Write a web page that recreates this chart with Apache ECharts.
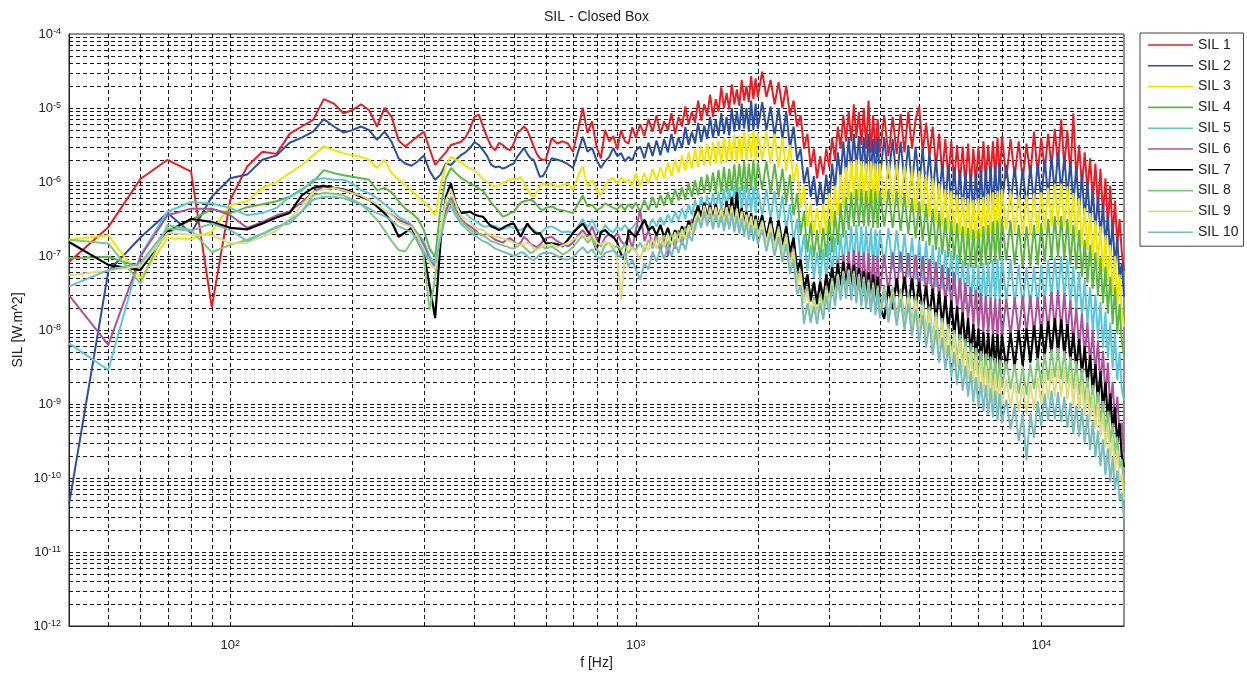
<!DOCTYPE html>
<html>
<head>
<meta charset="utf-8">
<title>SIL - Closed Box</title>
<script src="https://cdn.jsdelivr.net/npm/echarts@6/dist/echarts.min.js"></script>
<style>
  html, body { margin: 0; padding: 0; background: #ffffff; }
  #chart { width: 1247px; height: 675px; }
</style>
</head>
<body>
<div id="chart"></div>
<script>
// Frequency bins (Hz), split into three bands
const freqLow = [
  40, 50, 60, 70, 80, 90, 100, 110, 120, 130,
  140, 150, 160, 170, 180, 190, 200, 210, 220, 230,
  240, 250, 260, 270, 280, 290, 300, 310, 320, 330,
  340, 350, 360, 370, 380, 390, 400, 410, 420, 430,
  440, 450, 460, 470, 480, 490, 500, 510, 520, 530,
  540, 550, 560, 570, 580, 590, 600
];
const freqMid = [
  620, 640, 660, 680, 700, 720, 740, 760, 780, 800,
  820, 840, 860, 880, 900, 920, 940, 960, 980, 1000,
  1025, 1050, 1075, 1100, 1125, 1150, 1175, 1200, 1225, 1250,
  1275, 1300, 1325, 1350, 1375, 1400, 1425, 1450, 1475, 1500,
  1525, 1550, 1575, 1600, 1625, 1650, 1675, 1700, 1725, 1750,
  1775, 1800, 1825, 1850, 1875, 1900, 1925, 1950, 1975, 2000
];
const freqHigh = [
  2050, 2100, 2150, 2200, 2250, 2300, 2350, 2400, 2450, 2500,
  2550, 2600, 2650, 2700, 2750, 2800, 2850, 2900, 2950, 3000,
  3050, 3100, 3150, 3200, 3250, 3300, 3350, 3400, 3450, 3500,
  3550, 3600, 3650, 3700, 3750, 3800, 3850, 3900, 3950, 4000,
  4100, 4200, 4300, 4400, 4500, 4600, 4700, 4800, 4900, 5000,
  5100, 5200, 5300, 5400, 5500, 5600, 5700, 5800, 5900, 6000,
  6100, 6200, 6300, 6400, 6500, 6600, 6700, 6800, 6900, 7000,
  7100, 7200, 7300, 7400, 7500, 7600, 7700, 7800, 7900, 8000,
  8200, 8400, 8600, 8800, 9000, 9200, 9400, 9600, 9800, 10000,
  10200, 10400, 10600, 10800, 11000, 11200, 11400, 11600, 11800, 12000,
  12200, 12400, 12600, 12800, 13000, 13200, 13400, 13600, 13800, 14000,
  14200, 14400, 14600, 14800, 15000, 15200, 15400, 15600, 15800, 16000
];

// Sound intensity levels, dB re 1e-12 W/m^2
const sil1Low = [
  49.2, 53.9, 60.4, 63.0, 61.4, 43.1, 57.6, 62.1, 64.1, 63.8,
  66.5, 67.5, 68.4, 71.2, 70.6, 69.3, 69.7, 70.5, 69.7, 67.5,
  70.0, 68.8, 65.6, 64.8, 65.5, 66.2, 66.8, 64.5, 62.3, 63.2,
  64.0, 65.0, 65.2, 65.4, 66.0, 67.2, 68.8, 69.1, 67.5, 66.0,
  64.8, 64.3, 65.3, 65.0, 64.5, 64.3, 65.2, 66.6, 67.0, 67.5,
  67.0, 65.9, 64.8, 63.8, 63.2, 63.0, 63.0
];
const sil1Mid = [
  65.9, 65.2, 65.5, 65.2, 64.1, 67.0, 70.0, 66.6, 68.2, 64.8,
  63.2, 67.0, 65.5, 66.2, 64.5, 67.0, 65.5, 65.2, 67.4, 66.0,
  67.8, 66.2, 68.5, 66.8, 69.0, 66.5, 68.2, 67.0, 69.3, 66.5,
  68.8, 67.5, 70.2, 67.8, 69.5, 68.0, 71.0, 68.3, 70.5, 69.0,
  71.8, 68.8, 71.2, 69.5, 72.8, 70.0, 72.0, 69.8, 73.2, 70.5,
  72.5, 70.3, 73.8, 71.0, 73.0, 70.8, 74.3, 71.2, 74.0, 71.5
];
const sil1High = [
  74.9, 71.5, 73.8, 70.5, 73.5, 70.0, 73.0, 69.0, 71.0, 67.5,
  69.0, 64.5, 66.5, 62.0, 64.5, 60.5, 63.5, 61.0, 64.5, 62.0,
  66.0, 63.0, 67.5, 64.5, 69.0, 65.5, 69.5, 65.5, 70.5, 66.0,
  69.5, 65.0, 70.0, 64.5, 71.0, 64.0, 69.0, 63.8, 68.5, 64.0,
  69.0, 63.5, 68.8, 63.8, 69.2, 64.0, 69.5, 64.5, 68.5, 70.2,
  64.0, 68.0, 63.5, 67.5, 62.0, 66.5, 61.0, 65.8, 60.5, 65.5,
  60.0, 65.0, 59.8, 64.8, 59.5, 65.2, 59.5, 64.5, 59.8, 64.8,
  60.0, 65.5, 60.2, 65.0, 60.5, 65.5, 60.5, 66.0, 60.5, 66.2,
  60.5, 65.8, 60.7, 65.5, 60.3, 65.2, 60.8, 66.8, 61.0, 66.0,
  61.5, 66.5, 62.0, 67.2, 62.2, 68.5, 62.0, 67.0, 61.0, 69.3,
  60.5, 65.0, 59.5, 64.0, 58.8, 63.2, 57.5, 62.5, 56.5, 61.8,
  55.5, 60.5, 54.0, 59.5, 52.5, 57.5, 51.5, 55.0, 50.5, 48.0
];

const sil2Low = [
  16.4, 47.9, 52.5, 55.8, 53.1, 58.0, 60.5, 61.0, 63.0, 63.6,
  65.3, 66.0, 66.8, 68.5, 67.5, 66.7, 67.0, 67.5, 67.0, 65.7,
  66.8, 65.4, 63.2, 62.5, 62.2, 62.8, 63.6, 61.5, 60.3, 61.0,
  62.5, 62.3, 63.0, 63.6, 64.0, 64.6, 65.4, 65.0, 64.3, 63.5,
  62.3, 62.0, 62.1, 61.8, 62.0, 62.3, 62.5, 63.4, 64.0, 64.6,
  63.8, 63.2, 63.0, 61.8, 60.7, 60.8, 61.5
];
const sil2Mid = [
  63.2, 63.0, 62.8, 62.4, 61.9, 64.0, 66.1, 64.1, 64.6, 63.0,
  61.9, 62.8, 63.4, 64.6, 63.5, 63.9, 62.8, 63.4, 62.9, 64.2,
  64.8, 63.2, 65.3, 63.5, 65.6, 63.6, 65.8, 64.0, 66.5, 64.2,
  66.0, 64.6, 67.4, 65.0, 66.8, 65.2, 68.0, 65.4, 67.6, 65.8,
  68.8, 66.0, 68.4, 66.2, 69.3, 66.5, 68.8, 66.3, 70.0, 66.8,
  69.5, 67.0, 70.6, 67.2, 70.0, 66.8, 71.0, 67.0, 70.6, 67.2
];
const sil2High = [
  70.8, 67.0, 70.2, 66.2, 70.0, 65.8, 69.5, 64.5, 67.5, 63.0,
  64.5, 59.8, 62.0, 58.0, 60.8, 56.8, 60.0, 57.0, 61.0, 57.5,
  62.5, 59.0, 64.0, 60.5, 65.5, 61.0, 66.0, 61.5, 66.5, 61.8,
  66.2, 61.5, 66.0, 61.0, 66.5, 60.8, 65.8, 60.5, 66.0, 60.5,
  66.0, 60.5, 65.8, 60.3, 65.5, 60.0, 65.0, 59.5, 64.8, 59.5,
  64.5, 59.0, 64.0, 58.5, 63.2, 57.8, 62.5, 57.0, 62.3, 56.8,
  62.0, 56.5, 61.5, 56.0, 61.2, 56.0, 61.0, 55.8, 61.2, 56.0,
  61.5, 56.2, 61.8, 56.5, 62.0, 56.5, 62.2, 56.8, 62.5, 57.0,
  62.3, 57.0, 62.0, 56.5, 61.8, 56.5, 62.2, 57.0, 62.5, 57.5,
  63.0, 58.0, 63.5, 58.5, 64.0, 58.5, 63.5, 58.0, 62.8, 57.0,
  62.0, 56.0, 61.0, 55.0, 60.0, 54.5, 59.0, 53.5, 58.0, 52.5,
  57.0, 51.5, 55.5, 50.0, 54.5, 48.5, 52.5, 47.0, 49.0, 44.5
];

const sil3Low = [
  52.2, 52.8, 47.0, 52.4, 52.3, 53.3, 56.9, 57.4, 59.2, 60.0,
  61.2, 62.3, 63.6, 64.8, 64.3, 63.9, 63.6, 63.4, 63.0, 61.9,
  63.0, 61.2, 60.3, 59.6, 58.8, 58.0, 57.3, 56.5, 55.5, 59.5,
  62.3, 63.4, 63.0, 62.7, 62.2, 61.8, 61.6, 61.0, 60.4, 60.0,
  59.6, 59.4, 59.6, 59.9, 60.1, 60.3, 60.5, 60.3, 60.7, 60.0,
  59.0, 58.3, 58.0, 58.6, 59.4, 59.8, 59.6
];
const sil3Mid = [
  59.8, 59.4, 59.6, 59.8, 58.9, 60.8, 62.1, 59.4, 60.3, 59.0,
  58.2, 59.5, 60.3, 60.5, 59.8, 60.6, 60.0, 60.3, 59.5, 61.2,
  59.4, 61.2, 59.8, 61.8, 60.2, 62.0, 60.5, 62.6, 60.8, 63.0,
  61.2, 63.6, 61.5, 64.0, 61.8, 64.5, 62.0, 64.8, 62.2, 65.2,
  62.3, 65.4, 62.5, 65.6, 62.4, 66.0, 62.6, 65.8, 62.8, 66.4,
  62.6, 66.2, 63.0, 66.8, 62.8, 66.5, 63.2, 67.0, 62.8, 66.6
];
const sil3High = [
  63.0, 66.8, 62.5, 66.5, 62.0, 66.0, 61.5, 65.0, 60.0, 62.5,
  56.5, 59.5, 54.0, 57.0, 53.0, 56.5, 52.8, 57.0, 53.0, 58.5,
  54.0, 59.5, 55.5, 61.0, 56.5, 62.0, 57.5, 62.8, 57.8, 63.0,
  57.5, 62.8, 57.5, 62.5, 57.2, 62.8, 57.0, 62.5, 57.0, 62.5,
  57.2, 62.6, 57.0, 62.5, 56.8, 62.2, 56.5, 61.8, 56.0, 61.5,
  55.8, 61.0, 55.2, 60.5, 54.5, 59.8, 54.0, 59.0, 53.5, 58.8,
  53.0, 58.3, 52.8, 58.0, 52.5, 57.8, 52.2, 57.6, 52.3, 57.8,
  52.5, 58.0, 52.8, 58.4, 53.0, 58.6, 53.2, 58.8, 53.5, 59.0,
  53.5, 58.8, 53.0, 58.3, 52.8, 58.2, 52.8, 58.5, 53.0, 58.6,
  53.5, 59.2, 54.0, 59.8, 54.2, 59.8, 54.0, 59.4, 53.2, 58.5,
  52.5, 57.8, 51.5, 56.5, 50.8, 55.8, 49.8, 54.8, 48.8, 54.0,
  47.8, 52.8, 46.5, 51.5, 45.0, 50.0, 43.5, 47.5, 42.5, 40.5
];

const sil4Low = [
  49.7, 49.9, 48.5, 53.1, 54.9, 56.3, 55.8, 56.6, 57.0, 57.4,
  58.0, 59.0, 60.0, 61.6, 61.2, 60.9, 60.7, 60.5, 60.3, 58.9,
  59.2, 58.6, 57.4, 56.4, 55.8, 55.0, 53.5, 51.0, 49.9, 56.5,
  60.5, 61.9, 61.2, 60.6, 60.2, 59.8, 59.5, 59.1, 58.8, 58.0,
  57.2, 56.6, 56.0, 55.3, 55.5, 55.8, 55.9, 56.6, 57.2, 57.4,
  57.5, 57.6, 57.4, 56.9, 56.4, 56.2, 56.5
];
const sil4Mid = [
  56.7, 56.3, 56.2, 56.0, 55.8, 57.0, 58.2, 56.7, 56.9, 56.2,
  56.5, 57.1, 56.8, 56.5, 56.3, 56.9, 56.2, 57.0, 56.4, 57.2,
  56.0, 57.6, 56.2, 58.0, 56.5, 58.2, 56.8, 58.6, 57.0, 59.0,
  57.5, 59.3, 57.6, 59.8, 58.0, 60.2, 58.2, 60.7, 58.5, 61.0,
  58.6, 61.3, 58.5, 61.6, 58.6, 62.0, 58.6, 61.8, 58.8, 62.4,
  58.6, 62.5, 58.8, 62.8, 58.6, 62.5, 59.0, 63.0, 58.8, 62.6
];
const sil4High = [
  59.0, 62.8, 58.5, 62.4, 58.0, 61.8, 57.0, 61.0, 55.5, 58.5,
  53.0, 56.0, 50.5, 54.5, 49.8, 53.5, 49.5, 53.8, 49.8, 55.0,
  50.5, 56.0, 51.5, 57.2, 52.5, 58.0, 53.5, 58.6, 54.0, 59.0,
  54.0, 59.0, 54.0, 58.8, 54.0, 59.0, 53.8, 58.8, 53.8, 58.8,
  54.0, 59.0, 53.8, 58.8, 53.4, 58.4, 53.0, 57.8, 52.4, 57.4,
  52.0, 57.0, 51.4, 56.4, 50.8, 55.8, 50.2, 55.2, 49.8, 54.8,
  49.4, 54.4, 49.0, 54.0, 48.6, 53.8, 48.4, 53.6, 48.4, 53.6,
  48.6, 54.0, 48.8, 54.2, 49.0, 54.6, 49.2, 54.8, 49.4, 55.0,
  49.4, 54.8, 48.8, 54.2, 48.5, 54.0, 48.6, 54.2, 48.8, 54.4,
  49.2, 55.0, 49.6, 55.4, 49.8, 55.4, 49.6, 55.0, 48.8, 54.2,
  48.2, 53.5, 47.2, 52.2, 46.4, 51.5, 45.6, 50.5, 44.6, 49.8,
  43.6, 48.6, 42.2, 47.2, 40.8, 45.8, 39.5, 43.5, 38.5, 36.5
];

const sil5Low = [
  38.2, 34.6, 50.1, 56.0, 57.3, 57.1, 56.5, 55.5, 55.8, 56.5,
  58.0, 58.8, 60.3, 60.5, 60.3, 60.3, 59.8, 58.9, 58.5, 57.8,
  57.0, 56.2, 55.3, 54.8, 54.2, 53.0, 52.0, 50.0, 49.0, 53.5,
  56.5, 58.0, 57.0, 56.0, 55.8, 55.2, 54.8, 54.4, 54.0, 54.0,
  54.2, 54.0, 53.8, 53.6, 53.8, 54.0, 53.8, 53.6, 53.5, 53.8,
  54.0, 53.8, 53.6, 53.2, 53.0, 53.4, 53.8
];
const sil5Mid = [
  54.0, 53.6, 53.2, 53.3, 53.1, 54.0, 55.0, 53.8, 54.9, 53.6,
  53.0, 54.2, 53.5, 53.2, 54.0, 53.5, 54.2, 53.5, 53.8, 54.5,
  53.5, 54.8, 53.8, 55.0, 54.0, 55.2, 54.2, 55.6, 54.5, 56.0,
  54.8, 56.5, 55.0, 57.0, 55.5, 57.6, 55.8, 58.0, 56.0, 58.2,
  56.2, 58.5, 56.3, 58.6, 56.4, 59.0, 56.5, 59.2, 56.4, 59.5,
  56.5, 59.3, 56.2, 59.6, 56.0, 59.2, 56.0, 59.4, 55.8, 59.0
];
const sil5High = [
  55.5, 59.0, 55.0, 58.8, 54.5, 58.2, 53.5, 57.0, 52.0, 55.0,
  49.5, 53.0, 48.0, 51.5, 47.0, 50.5, 46.8, 51.0, 47.0, 52.0,
  47.5, 52.5, 48.0, 53.0, 48.5, 53.5, 49.0, 54.0, 49.0, 54.2,
  49.0, 54.0, 48.8, 54.0, 48.6, 53.8, 48.5, 53.6, 48.4, 53.5,
  48.5, 53.8, 48.2, 53.5, 47.8, 53.0, 47.2, 52.5, 46.8, 52.2,
  46.6, 52.0, 46.2, 51.5, 45.8, 51.2, 45.5, 50.8, 45.2, 50.6,
  44.8, 50.2, 44.2, 49.5, 43.6, 49.0, 43.2, 48.8, 43.0, 48.8,
  43.2, 49.0, 43.4, 49.2, 43.6, 49.5, 43.8, 49.6, 44.0, 49.8,
  44.0, 49.6, 43.4, 48.8, 43.0, 48.5, 43.0, 48.6, 43.2, 48.8,
  43.6, 49.4, 44.2, 49.8, 44.4, 50.0, 44.2, 49.6, 43.4, 48.6,
  42.6, 47.8, 41.8, 46.8, 40.8, 45.8, 39.8, 44.8, 38.8, 43.8,
  37.6, 42.5, 36.2, 41.0, 34.8, 39.5, 33.2, 37.0, 32.0, 30.5
];

const sil6Low = [
  44.7, 38.0, 49.9, 55.5, 56.4, 56.4, 55.5, 53.8, 54.6, 55.5,
  56.0, 57.3, 58.6, 59.4, 59.2, 58.8, 58.5, 58.0, 57.6, 56.8,
  56.0, 55.6, 54.9, 54.5, 54.0, 52.8, 51.5, 49.5, 48.6, 52.5,
  56.0, 57.8, 56.2, 55.0, 54.4, 54.0, 53.6, 53.0, 52.8, 53.0,
  52.6, 52.2, 52.0, 51.8, 52.2, 52.4, 52.0, 51.5, 51.8, 52.6,
  52.2, 51.6, 51.4, 51.2, 51.5, 52.0, 52.4
];
const sil6Mid = [
  52.6, 52.0, 51.6, 51.3, 51.8, 52.8, 53.5, 52.6, 54.0, 52.4,
  51.3, 52.5, 53.0, 52.4, 53.1, 52.0, 51.5, 52.8, 51.0, 53.5,
  56.2, 52.0, 53.5, 51.5, 53.0, 50.5, 52.8, 50.0, 52.5, 51.0,
  53.5, 51.5, 54.0, 52.5, 55.0, 54.0, 56.8, 55.0, 57.0, 55.2,
  57.2, 55.0, 56.8, 54.8, 56.5, 54.5, 56.8, 54.2, 56.5, 54.5,
  56.2, 54.0, 56.0, 53.8, 55.8, 53.6, 55.6, 53.4, 55.5, 53.2
];
const sil6High = [
  55.2, 52.0, 55.0, 51.5, 54.5, 51.0, 54.0, 50.0, 52.0, 47.5,
  49.5, 45.0, 47.5, 43.8, 46.5, 43.5, 46.8, 44.0, 47.5, 44.8,
  48.5, 45.2, 49.5, 45.8, 50.2, 46.0, 50.6, 46.2, 50.8, 46.0,
  50.6, 45.8, 50.5, 45.5, 50.4, 45.2, 50.2, 45.0, 50.0, 45.2,
  50.2, 45.0, 50.5, 45.2, 50.6, 45.5, 50.4, 45.4, 50.2, 45.0,
  50.0, 44.8, 49.6, 44.4, 49.2, 44.0, 48.8, 43.6, 48.4, 43.2,
  47.8, 42.6, 47.0, 41.8, 46.4, 41.2, 45.8, 40.6, 45.4, 40.2,
  45.0, 39.8, 44.6, 39.4, 44.4, 39.2, 44.2, 39.0, 44.2, 39.0,
  44.2, 39.2, 44.4, 39.4, 44.6, 39.6, 44.6, 39.4, 44.4, 39.4,
  44.6, 39.8, 45.2, 40.2, 45.4, 40.0, 45.0, 39.4, 44.0, 38.2,
  43.0, 37.6, 42.2, 36.4, 41.0, 35.4, 40.0, 34.0, 38.6, 32.4,
  37.2, 31.0, 35.6, 29.2, 33.0, 27.6, 31.0, 26.0, 27.5, 23.5
];

const sil7Low = [
  51.9, 48.8, 48.1, 53.3, 55.0, 54.6, 53.8, 53.6, 54.4, 55.2,
  55.8, 58.2, 59.2, 59.5, 59.2, 59.0, 58.6, 58.0, 57.6, 56.7,
  55.8, 54.6, 52.6, 53.2, 53.8, 52.0, 50.4, 46.0, 41.6, 52.0,
  58.0, 59.8, 57.0, 55.8, 55.9, 56.0, 55.6, 55.4, 55.3, 54.6,
  54.0, 53.8, 53.5, 53.8, 54.1, 54.3, 54.4, 53.5, 52.6, 53.5,
  54.4, 53.8, 53.3, 53.0, 53.1, 52.4, 51.7
];
const sil7Mid = [
  51.7, 51.6, 51.3, 52.2, 53.1, 53.8, 54.4, 53.4, 52.6, 50.8,
  53.2, 53.5, 52.9, 52.6, 51.8, 50.2, 49.5, 53.5, 53.0, 52.6,
  53.8, 54.9, 53.5, 54.0, 52.8, 54.2, 52.5, 53.8, 52.0, 53.5,
  52.4, 54.0, 52.8, 54.8, 53.5, 55.6, 56.8, 55.2, 57.2, 55.0,
  56.8, 54.8, 57.0, 55.0, 56.5, 54.6, 57.4, 55.0, 58.0, 55.2,
  58.6, 54.8, 56.5, 54.2, 56.0, 53.8, 55.8, 53.6, 55.4, 53.5
];
const sil7High = [
  55.5, 52.5, 55.2, 52.0, 54.8, 51.5, 54.0, 50.5, 52.5, 48.0,
  49.5, 45.5, 47.5, 44.0, 46.5, 43.5, 46.5, 44.0, 47.5, 45.0,
  48.5, 45.5, 49.0, 45.8, 49.2, 45.6, 49.0, 45.5, 48.8, 45.2,
  48.4, 44.8, 48.0, 44.5, 47.8, 44.2, 47.5, 43.8, 47.2, 43.2,
  41.5, 46.0, 42.8, 47.0, 43.2, 47.2, 43.2, 47.0, 43.0, 46.5,
  42.5, 46.0, 41.8, 45.6, 41.2, 45.2, 40.6, 44.6, 40.0, 44.0,
  39.2, 43.2, 38.4, 42.4, 37.6, 41.6, 36.8, 40.8, 36.2, 40.2,
  35.8, 39.8, 35.4, 39.6, 35.0, 39.4, 34.8, 39.4, 34.6, 39.4,
  34.8, 39.6, 35.0, 40.0, 35.2, 40.2, 35.6, 40.6, 36.0, 40.8,
  36.4, 41.2, 36.8, 41.6, 37.0, 41.4, 36.6, 40.8, 35.8, 39.6,
  34.8, 38.8, 34.0, 37.8, 32.6, 36.6, 31.6, 35.4, 30.4, 34.4,
  29.4, 33.0, 27.8, 31.4, 26.2, 29.6, 24.6, 27.4, 23.0, 21.5
];

const sil8Low = [
  52.2, 51.7, 46.3, 54.2, 53.5, 50.5, 51.5, 52.2, 53.0, 54.0,
  54.4, 56.0, 58.2, 58.5, 58.4, 58.2, 57.6, 57.0, 56.0, 54.9,
  53.5, 52.0, 50.8, 50.6, 52.0, 53.1, 49.9, 42.7, 47.0, 53.5,
  57.0, 57.5, 55.8, 54.8, 54.2, 53.6, 53.2, 53.0, 52.8, 52.4,
  52.0, 51.8, 51.6, 51.4, 51.3, 51.1, 51.0, 51.3, 51.6, 51.2,
  50.8, 50.4, 50.6, 51.0, 51.3, 51.2, 51.0
];
const sil8Mid = [
  51.3, 50.8, 50.2, 50.6, 51.2, 52.0, 52.8, 51.8, 52.4, 51.0,
  50.2, 51.5, 51.8, 51.0, 51.4, 50.8, 51.6, 50.4, 51.2, 50.8,
  51.8, 50.6, 52.2, 51.0, 52.6, 51.2, 52.8, 51.5, 53.0, 51.8,
  53.2, 52.2, 53.8, 52.6, 54.4, 53.5, 56.0, 54.2, 56.5, 54.5,
  56.6, 54.4, 56.4, 54.6, 56.8, 54.4, 56.5, 54.2, 56.6, 54.0,
  56.2, 53.8, 56.0, 53.6, 55.6, 53.2, 55.4, 53.0, 55.0, 52.8
];
const sil8High = [
  54.8, 51.8, 54.4, 51.2, 54.0, 50.6, 53.0, 49.0, 51.0, 46.5,
  48.0, 44.0, 45.8, 41.5, 44.5, 42.0, 45.0, 43.0, 46.0, 43.8,
  47.0, 44.2, 47.6, 44.6, 48.0, 44.8, 48.2, 44.6, 48.0, 44.4,
  47.6, 44.0, 47.2, 43.6, 46.8, 43.2, 46.4, 42.8, 46.0, 42.5,
  46.0, 42.0, 45.8, 41.8, 45.6, 41.4, 45.2, 40.8, 44.6, 40.2,
  44.0, 39.6, 43.2, 38.8, 42.4, 38.0, 41.6, 37.2, 40.8, 36.4,
  40.0, 35.8, 39.4, 35.2, 38.8, 34.6, 38.2, 34.0, 37.6, 33.6,
  37.2, 33.2, 36.8, 32.8, 36.4, 32.4, 36.2, 32.2, 36.0, 32.2,
  35.8, 32.0, 35.4, 31.4, 35.0, 31.2, 35.4, 32.0, 36.2, 32.6,
  36.8, 33.2, 37.4, 33.6, 37.6, 33.4, 37.2, 32.8, 36.4, 32.0,
  35.8, 31.2, 34.8, 30.2, 33.6, 29.4, 32.6, 28.4, 31.6, 27.4,
  30.4, 26.2, 29.0, 24.8, 27.4, 23.2, 25.6, 21.4, 22.5, 18.5
];

const sil9Low = [
  47.4, 48.0, 48.6, 53.1, 52.9, 52.8, 51.7, 51.8, 52.6, 53.4,
  55.0, 56.8, 58.6, 59.0, 59.2, 58.9, 58.5, 58.2, 57.6, 57.0,
  56.2, 55.5, 54.6, 54.2, 54.0, 52.5, 51.0, 49.0, 48.2, 53.5,
  57.5, 59.0, 57.0, 55.5, 55.0, 54.6, 54.0, 53.6, 53.5, 53.0,
  52.8, 52.6, 52.5, 52.4, 52.2, 52.0, 51.8, 51.6, 51.4, 51.6,
  51.8, 51.5, 51.0, 50.8, 51.0, 51.5, 51.4
];
const sil9Mid = [
  51.6, 51.2, 51.4, 51.8, 52.2, 52.6, 53.0, 52.2, 52.8, 51.8,
  51.5, 52.0, 51.6, 51.4, 49.5, 44.1, 50.0, 51.5, 51.0, 50.6,
  49.5, 51.6, 50.8, 52.4, 51.0, 52.6, 51.2, 53.0, 51.5, 53.2,
  51.8, 53.6, 52.2, 54.2, 53.0, 55.0, 55.8, 54.6, 56.8, 54.8,
  56.4, 54.6, 56.6, 54.8, 56.2, 54.4, 56.6, 54.6, 56.8, 54.2,
  56.4, 54.0, 56.0, 53.6, 55.6, 53.4, 55.2, 53.0, 54.8, 52.6
];
const sil9High = [
  54.6, 51.6, 54.2, 51.0, 53.6, 50.2, 52.6, 48.6, 50.6, 46.0,
  47.6, 43.6, 45.2, 42.2, 44.0, 41.8, 44.4, 42.4, 45.4, 43.4,
  46.6, 44.0, 47.4, 44.6, 47.8, 44.8, 48.0, 44.6, 47.6, 44.2,
  47.2, 43.8, 46.8, 43.4, 46.4, 43.0, 46.0, 42.6, 45.6, 42.2,
  45.4, 41.4, 45.2, 41.0, 44.8, 40.6, 44.4, 40.2, 44.0, 39.6,
  43.4, 39.0, 42.6, 38.2, 41.8, 37.4, 41.0, 36.6, 40.2, 35.8,
  39.4, 35.0, 38.6, 34.2, 37.8, 33.4, 37.0, 32.8, 36.4, 32.2,
  35.8, 31.6, 35.2, 31.0, 34.6, 30.4, 34.0, 30.0, 33.6, 29.8,
  33.4, 29.6, 33.0, 29.0, 32.6, 28.6, 32.8, 29.2, 33.6, 30.0,
  34.4, 30.6, 35.0, 31.0, 35.2, 31.0, 35.0, 30.6, 34.4, 29.8,
  33.8, 29.2, 33.0, 28.4, 32.2, 27.6, 31.2, 26.6, 30.2, 25.6,
  28.8, 24.2, 27.2, 22.6, 25.4, 21.0, 23.6, 19.6, 20.5, 17.0
];

const sil10Low = [
  45.9, 48.1, 49.0, 53.7, 53.4, 54.4, 53.5, 52.0, 53.0, 53.8,
  54.8, 56.0, 57.6, 58.0, 58.0, 57.8, 57.4, 57.0, 56.4, 55.8,
  55.4, 54.8, 54.0, 53.6, 53.2, 52.0, 50.5, 49.5, 49.0, 52.5,
  55.5, 56.8, 55.4, 54.4, 53.8, 53.2, 52.8, 52.4, 52.0, 51.8,
  51.4, 51.0, 50.8, 50.6, 50.4, 50.2, 50.0, 50.2, 50.5, 50.4,
  50.0, 49.6, 49.4, 49.8, 50.2, 50.4, 50.4
];
const sil10Mid = [
  50.4, 50.0, 49.6, 49.5, 49.8, 50.6, 51.2, 50.4, 50.9, 50.0,
  49.6, 50.4, 50.6, 50.8, 50.2, 49.8, 50.4, 48.6, 49.5, 48.2,
  46.8, 49.0, 48.2, 50.6, 49.2, 51.0, 49.6, 51.4, 50.0, 51.8,
  50.4, 52.2, 50.8, 53.0, 52.0, 54.0, 55.2, 53.8, 56.0, 54.0,
  55.8, 53.6, 55.6, 53.8, 55.4, 53.4, 55.6, 53.6, 55.8, 53.2,
  55.4, 53.0, 55.0, 52.6, 54.6, 52.2, 54.2, 52.0, 53.8, 51.6
];
const sil10High = [
  53.6, 50.6, 53.2, 50.0, 52.6, 49.2, 51.6, 47.6, 49.4, 44.8,
  46.0, 40.8, 43.6, 41.0, 43.2, 40.8, 43.6, 41.4, 44.6, 42.4,
  46.0, 43.2, 47.0, 44.0, 47.6, 44.2, 47.8, 44.0, 47.4, 43.6,
  47.0, 43.2, 46.6, 42.8, 46.2, 42.4, 45.8, 42.0, 45.4, 41.6,
  45.2, 41.0, 44.8, 40.6, 44.2, 40.0, 43.6, 39.2, 42.8, 38.4,
  42.0, 37.6, 41.0, 36.6, 40.0, 35.6, 39.0, 34.6, 38.0, 33.6,
  37.0, 32.6, 36.0, 31.8, 35.2, 31.0, 34.4, 30.2, 33.6, 29.6,
  33.0, 29.0, 32.6, 28.6, 32.2, 28.2, 31.8, 27.8, 31.4, 27.4,
  30.6, 26.6, 29.8, 25.0, 28.6, 22.4, 28.8, 25.4, 30.4, 27.0,
  31.4, 27.8, 31.8, 28.0, 31.6, 27.6, 31.0, 26.8, 30.2, 26.0,
  29.8, 25.6, 29.4, 24.8, 28.6, 23.8, 27.6, 22.8, 26.4, 21.6,
  25.2, 20.4, 24.0, 19.4, 22.8, 18.4, 21.0, 17.0, 18.0, 14.5
];

const seriesNames = ['SIL 1', 'SIL 2', 'SIL 3', 'SIL 4', 'SIL 5', 'SIL 6', 'SIL 7', 'SIL 8', 'SIL 9', 'SIL 10'];
const seriesLevels = [
  [sil1Low, sil1Mid, sil1High],
  [sil2Low, sil2Mid, sil2High],
  [sil3Low, sil3Mid, sil3High],
  [sil4Low, sil4Mid, sil4High],
  [sil5Low, sil5Mid, sil5High],
  [sil6Low, sil6Mid, sil6High],
  [sil7Low, sil7Mid, sil7High],
  [sil8Low, sil8Mid, sil8High],
  [sil9Low, sil9Mid, sil9High],
  [sil10Low, sil10Mid, sil10High]
];
const seriesColors = ['#ED1C24', '#2B4FA2', '#F2E600', '#5DB843', '#5CC8DB',
                      '#B0519C', '#000000', '#80C87A', '#DEDC80', '#78BCBF'];

const FONT = '"Liberation Sans", Arial, Helvetica, sans-serif';
const TEXT_COLOR = '#222222';
const I_REF = 1e-12; // W/m^2, reference intensity for 0 dB

// [frequency, intensity] pairs for one band
function bandPairs(freqs, levels) {
  const n = Math.min(freqs.length, levels.length);
  const out = [];
  for (let i = 0; i < n; i++) {
    out.push([freqs[i], I_REF * Math.pow(10, levels[i] / 10)]);
  }
  return out;
}
const freqBands = [freqLow, freqMid, freqHigh];

// Dashed grid at every 1..9 multiple of each decade: [f, I, orientation]
const gridLines = [];
[10, 100, 1000, 10000].forEach(function (d) {
  for (let k = 1; k <= 9; k++) {
    const v = k * d;
    if (v > 40 && v < 16000) gridLines.push([v, 1e-8, 0]);
  }
});
for (let e = -12; e <= -5; e++) {
  for (let k = 1; k <= 9; k++) {
    const v = k * Math.pow(10, e);
    if (v > 1.0001e-12 && v < 0.9999e-4) gridLines.push([1000, v, 1]);
  }
}

function powerLabel(value) {
  const e = Math.round(Math.log10(value));
  if (Math.abs(value / Math.pow(10, e) - 1) > 1e-6) return '';
  return '{b|10}{s|' + e + '}';
}
const labelRich = {
  b: { fontFamily: FONT, fontSize: 13, color: TEXT_COLOR, lineHeight: 13, verticalAlign: 'bottom' },
  s: { fontFamily: FONT, fontSize: 9, color: TEXT_COLOR, lineHeight: 9, verticalAlign: 'top', padding: [0, 0, 9, 0] }
};

const chart = echarts.init(document.getElementById('chart'), null, { renderer: 'canvas', width: 1247, height: 675 });

const dataSeries = seriesNames.map(function (name, i) {
  const pts = [];
  seriesLevels[i].forEach(function (levels, b) {
    bandPairs(freqBands[b], levels).forEach(function (p) { pts.push(p); });
  });
  return {
    name: name,
    type: 'line',
    data: pts,
    symbol: 'none',
    showSymbol: false,
    silent: true,
    z: 3,
    lineStyle: { color: seriesColors[i], width: i === 6 ? 2.2 : 2 },
    itemStyle: { color: seriesColors[i] },
    emphasis: { disabled: true }
  };
});

const gridSeries = {
  name: 'grid',
  type: 'custom',
  silent: true,
  z: 1,
  clip: true,
  data: gridLines,
  encode: { x: 0, y: 1 },
  renderItem: function (params, api) {
    const cs = params.coordSys;
    const p = api.coord([api.value(0), api.value(1)]);
    let shape;
    if (api.value(2) === 0) {
      const x = Math.round(p[0]) + 0.5;
      shape = { x1: x, y1: cs.y, x2: x, y2: cs.y + cs.height };
    } else {
      const y = Math.round(p[1]) + 0.5;
      shape = { x1: cs.x, y1: y, x2: cs.x + cs.width, y2: y };
    }
    return {
      type: 'line',
      shape: shape,
      silent: true,
      style: { stroke: '#000000', lineWidth: 1, lineDash: [4, 3], opacity: 0.9 }
    };
  }
};

// Thin bar inside a 45x14 box, used as legend swatch
const legendSwatch = 'path://M0,0L0.1,0L0.1,0.1L0,0.1Z M0,6.2L45,6.2L45,7.8L0,7.8Z M44.9,13.9L45,13.9L45,14L44.9,14Z';

chart.setOption({
  animation: false,
  backgroundColor: '#ffffff',
  textStyle: { fontFamily: FONT },
  grid: {
    left: 69, top: 34, right: 123, bottom: 49,
    outerBoundsMode: 'none',
    containLabel: false,
    show: true, borderColor: '#222222', borderWidth: 1, backgroundColor: '#ffffff'
  },
  graphic: [{
    type: 'text',
    x: 596.5,
    y: 17,
    silent: true,
    style: {
      text: 'SIL - Closed Box',
      fontFamily: FONT,
      fontSize: 14,
      fill: TEXT_COLOR,
      align: 'center',
      verticalAlign: 'middle',
      textAlign: 'center',
      textVerticalAlign: 'middle'
    }
  }],
  legend: {
    data: seriesNames,
    orient: 'vertical',
    left: 1140,
    top: 33,
    icon: legendSwatch,
    itemWidth: 45,
    itemHeight: 14,
    itemGap: 6.8,
    padding: [5, 5, 7, 8],
    borderColor: '#444444',
    borderWidth: 1,
    backgroundColor: '#ffffff',
    selectedMode: false,
    itemStyle: { borderWidth: 0 },
    textStyle: { fontFamily: FONT, fontSize: 14, color: TEXT_COLOR }
  },
  xAxis: {
    type: 'log',
    logBase: 10,
    min: 40,
    max: 16000,
    splitNumber: 3,
    axisLine: { show: true, lineStyle: { color: '#222222', width: 1 } },
    axisTick: { show: false },
    splitLine: { show: false },
    axisLabel: { formatter: powerLabel, rich: labelRich, margin: 13 },
    name: 'f [Hz]',
    nameLocation: 'middle',
    nameGap: 30,
    nameMoveOverlap: false,
    nameTextStyle: { fontFamily: FONT, fontSize: 14, color: TEXT_COLOR }
  },
  yAxis: {
    type: 'log',
    logBase: 10,
    min: 1e-12,
    max: 1e-4,
    splitNumber: 8,
    axisLine: { show: true, lineStyle: { color: '#222222', width: 1 } },
    axisTick: { show: false },
    splitLine: { show: false },
    axisLabel: { formatter: powerLabel, rich: labelRich, margin: 8 },
    name: 'SIL [W.m^2]',
    nameLocation: 'middle',
    nameGap: 44,
    nameMoveOverlap: false,
    nameTextStyle: { fontFamily: FONT, fontSize: 14, color: TEXT_COLOR }
  },
  series: [gridSeries].concat(dataSeries)
});
</script>
</body>
</html>
